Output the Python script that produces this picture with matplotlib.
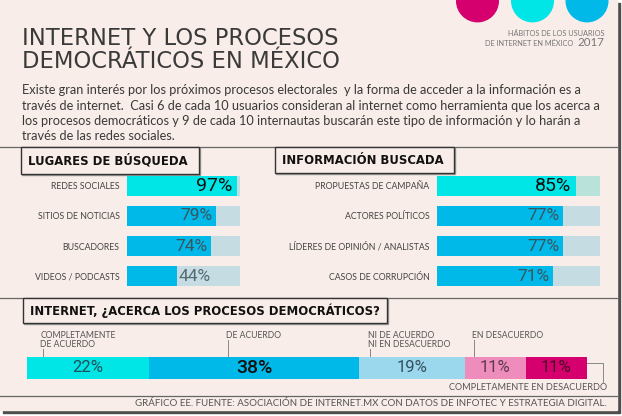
import matplotlib.pyplot as plt
from matplotlib.patches import Rectangle, Circle

W, H = 622, 416

# data
search_places = ["REDES SOCIALES", "SITIOS DE NOTICIAS", "BUSCADORES", "VIDEOS / PODCASTS"]
search_pct = [97, 79, 74, 44]

info_topics = ["PROPUESTAS DE CAMPAÑA", "ACTORES POLÍTICOS",
               "LÍDERES DE OPINIÓN / ANALISTAS", "CASOS DE CORRUPCIÓN"]
info_pct = [85, 77, 77, 71]

opinion_labels = ["COMPLETAMENTE\nDE ACUERDO", "DE ACUERDO", "NI DE ACUERDO\nNI EN DESACUERDO",
                  "EN DESACUERDO", "COMPLETAMENTE EN DESACUERDO"]
opinion_pct = [22, 38, 19, 11, 11]

# styles
BG = "#f8ede8"
CYAN = "#00e6e6"
BLUE = "#00b9e8"
LIGHTBLUE = "#9bd8ee"
PINK = "#ee8dbb"
MAGENTA = "#d5006d"
TRACK = "#c5dde2"
TRACK_GREEN = "#b8e2da"
SANS = "Lato"

fig = plt.figure(figsize=(W / 100, H / 100), dpi=100, facecolor="white")
bg = fig.add_axes([0, 0, 1, 1])
bg.set_xlim(0, W)
bg.set_ylim(H, 0)
bg.axis("off")


def px_axes(x0, y0, x1, y1):
    ax = fig.add_axes([x0 / W, 1 - y1 / H, (x1 - x0) / W, (y1 - y0) / H])
    ax.set_facecolor("none")
    for s in ax.spines.values():
        s.set_visible(False)
    ax.set_xticks([])
    return ax


# panel + shadow
bg.add_patch(Rectangle((3, 3), 617, 410, color="#4d4d4d", zorder=0))
bg.add_patch(Rectangle((0, 0), 617, 410, color=BG, zorder=1))

# header circles
for cx, col in zip([477.5, 532.5, 587], [MAGENTA, CYAN, BLUE]):
    bg.add_patch(Circle((cx, 0.9), 20.8, color=col, zorder=2))

bg.text(604, 33.5, "HÁBITOS DE LOS USUARIOS", ha="right", va="center",
        fontsize=5.3, color="#777777", family=SANS, zorder=3)
bg.text(604, 46, "2017", ha="right", va="baseline", fontsize=8.3, color="#777777",
        family=SANS, zorder=3)
bg.text(573, 46, "DE INTERNET EN MÉXICO", ha="right", va="baseline", fontsize=5.3,
        color="#777777", family=SANS, zorder=3)

# title
for k, ln in enumerate(["INTERNET Y LOS PROCESOS", "DEMOCRÁTICOS EN MÉXICO"]):
    bg.text(22.5, 45.3 + 23.2 * k, ln, ha="left", va="baseline", fontsize=16.3,
            color="#3a3a3a", family="Liberation Sans Narrow", zorder=3)

intro = ["Existe gran interés por los próximos procesos electorales  y la forma de acceder a la información es a",
         "través de internet.  Casi 6 de cada 10 usuarios consideran al internet como herramienta que los acerca a",
         "los procesos democráticos y 9 de cada 10 internautas buscarán este tipo de información y lo harán a",
         "través de las redes sociales."]
for k, line in enumerate(intro):
    bg.text(22.5, 94.5 + 15.3 * k, line, ha="left", va="baseline", fontsize=9.2,
            color="#3a3a3a", family=SANS, zorder=3)

# dividers
for yy in [147, 298, 396]:
    bg.plot([0, 617], [yy, yy], color="#666666", lw=0.9, zorder=3)


def title_box(x0, y0, x1, y1, text):
    bg.add_patch(Rectangle((x0 + 1.2, y0 + 1.2), x1 - x0, y1 - y0, color="#9a9a9a", zorder=3))
    bg.add_patch(Rectangle((x0, y0), x1 - x0, y1 - y0, fc=BG, ec="#333333", lw=1.0, zorder=4))
    bg.text(x0 + 7, (y0 + y1) / 2 + 0.5, text, ha="left", va="center", fontsize=8.4,
            fontweight="bold", color="#111111", family="DejaVu Sans", zorder=5)


title_box(21, 147, 199, 174, "LUGARES DE BÚSQUEDA")
title_box(275, 147, 454, 173, "INFORMACIÓN BUSCADA")
title_box(23, 298, 387, 323, "INTERNET, ¿ACERCA LOS PROCESOS DEMOCRÁTICOS?")


def bar_panel(x0, x1, names, vals, first_track):
    ax = px_axes(x0, 170.5, x1, 291.5)
    rows = list(range(len(vals)))
    ax.barh(rows, [100] * len(vals), height=0.66,
            color=[first_track] + [TRACK] * (len(vals) - 1))
    ax.barh(rows, vals, height=0.66, color=[CYAN] + [BLUE] * (len(vals) - 1))
    ax.set_xlim(0, 100)
    ax.set_ylim(len(vals) - 0.5, -0.5)
    ax.set_yticks(rows, names, fontsize=6.3, color="#444444", family=SANS)
    ax.tick_params(axis="y", length=0, pad=5.4)
    for i, v in enumerate(vals):
        if i == 0:
            ax.annotate(f"{v}%", (v, i), xytext=(-3, 0), textcoords="offset points",
                        ha="right", va="center", fontsize=14, color="#111111", family="Roboto")
        elif v < 50:
            ax.annotate(f"{v}%", (v, i), xytext=(1, 0), textcoords="offset points",
                        ha="left", va="center", fontsize=12.5, color="#556a74",
                        family="Roboto")
        else:
            ax.annotate(f"{v}%", (v, i), xytext=(-2.5, 0), textcoords="offset points",
                        ha="right", va="center", fontsize=12.5, color="#3b5560",
                        family="Roboto")


bar_panel(127, 240, search_places, search_pct, TRACK)
bar_panel(437, 600, info_topics, info_pct, TRACK_GREEN)

# stacked opinion bar
seg_colors = [CYAN, BLUE, LIGHTBLUE, PINK, MAGENTA]
seg_text = ["#1d4f5a", "#111111", "#34505c", "#5e3a4e", "#4a0828"]
sax = px_axes(26.7, 356.7, 586.5, 379.3)
left = 0
for i, v in enumerate(opinion_pct):
    sax.barh(0, v, left=left, height=1, color=seg_colors[i])
    big = i == 1
    sax.text(left + v / 2, 0, f"{v}%", ha="center", va="center",
             fontsize=14 if big else 12, color=seg_text[i], family="Roboto",
             fontweight="medium" if big else "normal")
    left += v
sax.set_xlim(0, sum(opinion_pct))
sax.set_ylim(-0.5, 0.5)
sax.set_yticks([])

# category labels above the stacked bar
label_x = [40.5, 226, 368, 472]
for lx, lab in zip(label_x, opinion_labels[:4]):
    lines = lab.split("\n")
    for k, ln in enumerate(lines):
        bg.text(lx, 335 + 9.3 * k, ln, ha="left", va="center", fontsize=6.2,
                color="#555555", family=SANS, zorder=3)
    top = 339.5 + 9.3 * (len(lines) - 1)
    bg.plot([lx + 2, lx + 2], [top, 356.7], color="#888888", lw=0.7, zorder=3)

bg.text(607, 387.5, opinion_labels[4], ha="right", va="center", fontsize=6.6,
        color="#555555", family=SANS, zorder=3)
bg.plot([586.5, 603, 603], [363, 363, 382.5], color="#888888", lw=0.7, zorder=3)

bg.text(607, 404, "GRÁFICO EE. FUENTE: ASOCIACIÓN DE INTERNET.MX CON DATOS DE INFOTEC Y ESTRATEGIA DIGITAL.",
        ha="right", va="center", fontsize=7.0, color="#555555", family=SANS, zorder=3)

fig.savefig("out.png", dpi=100, facecolor=fig.get_facecolor())
